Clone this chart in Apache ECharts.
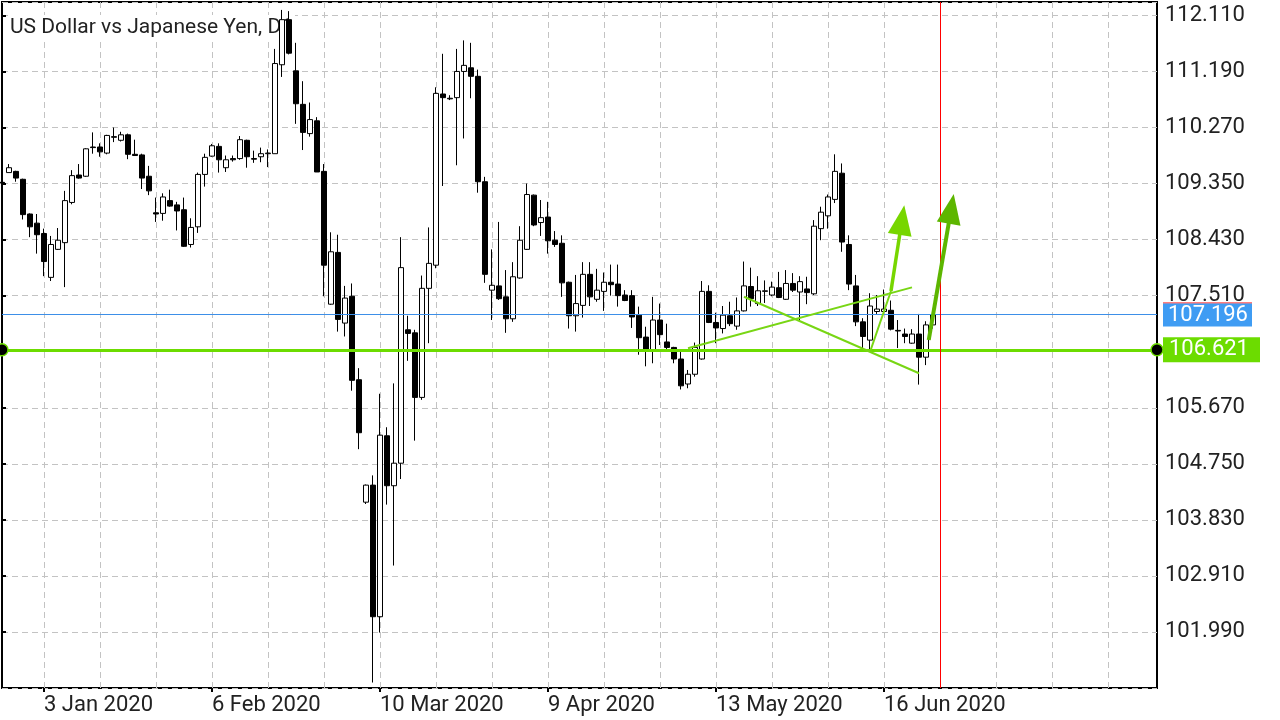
<!DOCTYPE html>
<html>
<head>
<meta charset="utf-8">
<style>
html,body{margin:0;padding:0;background:#fff;}
#chart{width:1280px;height:720px;}
</style>
<script src="https://cdn.jsdelivr.net/npm/echarts@6.0.0/dist/echarts.min.js"></script>
</head>
<body>
<div id="chart"></div>
<script>
// ---- data ----
const titleText = 'US Dollar vs Japanese Yen, D1';
const slotCount = 166; // bar slots on the time axis (incl. empty right shift)

const open = [109.37,109.53,109.55,109.42,108.85,108.70,108.53,107.81,108.27,108.38,
109.04,109.49,109.47,109.95,109.95,109.85,110.12,110.06,110.15,109.83,
109.82,109.47,108.87,108.86,109.07,109.00,108.92,108.35,108.64,109.50,
109.80,109.96,109.61,109.76,109.76,110.06,109.76,109.79,109.84,109.84,
111.30,112.04,111.20,110.65,110.17,110.38,109.55,107.37,108.22,107.06,
107.50,106.13,104.12,104.40,102.24,105.21,104.39,104.76,106.95,106.90,
105.84,107.63,108.01,110.82,110.75,110.76,111.19,111.25,111.11,109.38,
107.60,107.67,107.49,107.13,107.80,108.27,109.16,108.71,108.80,108.42,
108.37,107.73,107.18,107.35,107.86,107.45,107.58,107.73,107.70,107.52,
107.51,107.19,106.83,106.60,107.11,106.75,106.66,106.47,106.06,106.22,
106.47,107.58,107.07,106.97,107.18,107.01,107.26,107.66,107.38,107.58,
107.52,107.64,107.45,107.71,107.57,107.62,107.54,108.61,108.82,109.09,
109.52,108.35,107.67,107.08,106.78,107.25,107.25,107.27,106.94,106.88,
106.73,106.88,106.50,107.03];

const high = [109.38,109.67,109.56,109.43,108.86,108.85,108.61,108.49,108.62,109.23,
109.57,109.67,109.93,110.19,110.01,110.15,110.27,110.20,110.17,110.07,
109.84,109.64,109.12,109.19,109.25,109.05,109.12,108.78,109.53,109.84,
110.00,110.01,109.81,109.81,110.13,110.07,109.89,109.94,109.91,111.56,
112.20,112.18,111.66,111.03,110.68,110.44,109.67,108.55,108.51,107.67,
107.71,106.32,104.41,104.56,105.90,105.35,106.07,108.47,107.18,106.95,
107.84,108.63,110.93,111.48,110.80,111.56,111.70,111.66,111.22,109.46,
108.27,108.72,107.93,108.06,108.65,109.35,109.17,109.08,109.05,108.57,
108.50,107.74,107.85,108.06,108.06,107.95,107.89,108.02,108.02,107.60,
107.60,107.33,107.00,107.49,107.38,107.05,106.67,106.59,106.29,106.74,
107.75,107.68,107.23,107.34,107.41,107.48,108.07,107.97,107.83,107.76,
107.74,107.90,107.93,107.88,107.83,107.82,108.75,108.97,109.17,109.83,
109.68,108.50,107.85,107.14,107.55,107.52,107.61,107.43,107.11,106.97,
106.96,107.21,107.09,107.25];

const low = [109.34,109.53,109.38,108.76,108.47,108.20,107.83,107.75,108.26,107.65,
109.01,109.43,109.46,109.84,109.79,109.83,110.03,110.04,109.75,109.81,
109.26,109.16,108.72,108.74,108.97,108.58,108.31,108.30,108.54,109.30,
109.79,109.53,109.54,109.71,109.74,109.61,109.69,109.70,109.62,109.84,
111.10,111.47,110.33,109.90,110.12,109.54,107.50,107.36,106.92,106.84,
105.95,104.99,104.09,101.16,101.98,104.08,103.08,104.50,106.44,105.13,
105.80,106.73,107.96,109.31,110.72,109.65,110.09,110.75,109.20,107.72,
107.11,107.44,106.90,107.08,107.79,108.26,108.65,108.49,108.20,108.31,
107.49,106.97,106.92,107.15,107.34,107.41,107.26,107.51,107.33,107.42,
106.98,106.54,106.35,106.40,106.70,106.59,106.40,105.97,105.99,106.18,
106.46,107.06,106.73,106.89,107.01,106.95,107.25,107.33,107.34,107.39,
107.50,107.47,107.44,107.57,107.11,107.37,107.52,108.42,108.61,109.03,
108.23,107.60,107.01,106.59,106.59,107.21,107.22,106.94,106.65,106.73,
106.72,106.05,106.37,106.97];

const close = [109.36,109.61,109.44,108.84,108.64,108.51,108.07,108.35,108.42,109.07,
109.48,109.44,109.92,109.94,109.87,110.14,110.11,110.15,109.83,109.81,
109.44,109.23,108.85,109.13,108.98,108.90,108.32,108.63,109.50,109.78,
109.97,109.74,109.74,109.74,110.07,109.79,109.75,109.84,109.85,111.32,
112.04,111.49,110.66,110.19,110.40,109.54,108.01,108.23,107.12,107.47,
106.12,105.26,104.40,102.24,105.22,104.39,104.76,107.97,106.89,105.84,
107.63,108.04,110.83,110.76,110.74,111.19,111.29,111.11,109.38,107.86,
107.68,107.46,107.13,107.82,108.42,109.17,108.67,108.79,108.41,108.35,
107.72,107.18,107.38,107.86,107.49,107.60,107.73,107.69,107.51,107.43,
107.16,106.82,106.60,107.11,106.87,106.66,106.47,106.03,106.22,106.66,
107.58,107.07,106.98,107.19,107.05,107.26,107.67,107.46,107.59,107.59,
107.65,107.48,107.71,107.60,107.74,107.56,108.65,108.88,109.13,109.55,
108.39,107.70,107.08,106.84,107.34,107.29,107.29,106.96,106.93,106.84,
106.88,106.50,107.03,107.196];

const dateLabels = ['3 Jan 2020','6 Feb 2020','10 Mar 2020','9 Apr 2020','13 May 2020','16 Jun 2020'];
const dateLabelIndex = [6, 30, 54, 78, 102, 126];
const gridLineStart = 6, gridLineStep = 8;

const yMin = 101.07, yMax = 112.33, yStep = 0.92;

const bidPrice = 107.196;
const askPrice = 107.212;
const levelPrice = 106.621;
const separatorIndex = 134;

// drawn objects, in [bar index, price]
const trendRising = [[98, 106.646], [130, 107.646]];
const trendFalling = [[106, 107.492], [131, 106.236]];
const arrow1Base = [[124.07, 106.610], [127.0, 107.586]];
const arrow1 = [[127.0, 107.586], [128.57, 108.75]];
const arrow2 = [[132.39, 106.782], [135.6, 108.935]];

// ---- chart ----
const FONT = 'Roboto';
const categories = Array.from({length: slotCount}, (_, i) => i);
const candles = open.map((o, i) => [o, close[i], low[i], high[i]]);
const isDateLabel = (idx) => dateLabelIndex.indexOf(idx) >= 0;
const isGridLine = (idx) => idx >= gridLineStart && (idx - gridLineStart) % gridLineStep === 0;

const chart = echarts.init(document.getElementById('chart'), null, {renderer: 'canvas'});

const option = {
  animation: false,
  backgroundColor: '#ffffff',
  title: {
    text: titleText,
    left: 8, top: 15,
    padding: [2, 2, 2, 2],
    backgroundColor: '#ffffff',
    z: 1,
    textStyle: {fontFamily: FONT, fontSize: 21, fontWeight: 'normal', color: '#222222'}
  },
  grid: {
    left: 2, right: 123, top: 2, bottom: 32,
    show: true, borderColor: '#000000', borderWidth: 2,
    backgroundColor: 'transparent',
    containLabel: false,
    outerBoundsMode: 'none'
  },
  xAxis: [{
    type: 'category',
    data: categories,
    boundaryGap: false,
    axisLine: {show: false},
    axisTick: {show: true, interval: isDateLabel, length: 4, lineStyle: {color: '#000', width: 2}},
    axisLabel: {
      interval: isDateLabel,
      formatter: (v, idx) => dateLabels[dateLabelIndex.indexOf(idx)] || '',
      align: 'left', margin: 6,
      fontFamily: FONT, fontSize: 22, color: '#222222'
    },
    splitLine: {show: true, interval: isGridLine, lineStyle: {color: '#c3c3c3', width: 1, type: [6, 4]}}
  }, {
    type: 'value', min: 0, max: slotCount - 1, show: false
  }],
  yAxis: {
    type: 'value',
    position: 'right',
    min: yMin, max: yMax, interval: yStep,
    axisLine: {show: false},
    axisTick: {show: true, length: 4, lineStyle: {color: '#000', width: 2}},
    axisLabel: {
      showMinLabel: false, showMaxLabel: false,
      formatter: (v) => v.toFixed(3),
      margin: 8,
      fontFamily: FONT, fontSize: 22, color: '#222222'
    },
    splitLine: {show: true, lineStyle: {color: '#c3c3c3', width: 1, type: [6, 4]}}
  },
  series: [{
    type: 'candlestick',
    name: 'USDJPY',
    data: candles,
    barWidth: 5,
    z: 2,
    itemStyle: {
      color: '#ffffff', color0: '#000000',
      borderColor: '#000000', borderColor0: '#000000', borderColorDoji: '#000000',
      borderWidth: 1
    }
  }, {
    type: 'line',
    xAxisIndex: 1,
    data: [],
    clip: false,
    silent: true,
    z: 3,
    markLine: {
      silent: true,
      animation: false,
      symbol: ['none', 'none'],
      label: {show: false},
      data: [
        {yAxis: askPrice, lineStyle: {color: '#ff0000', width: 1, type: 'solid'}},
        {yAxis: bidPrice, lineStyle: {color: '#3d8fe8', width: 1, type: 'solid'},
          label: {
            show: true, position: 'end', distance: 6,
            formatter: '{r| }\n{b|' + bidPrice.toFixed(3) + '}',
            rich: {
              r: {width: 89, height: 1, lineHeight: 1, fontSize: 1, backgroundColor: '#ff0000'},
              b: {width: 84, height: 23, lineHeight: 23, padding: [0, 0, 0, 5], backgroundColor: '#3f9cf3',
                  color: '#ffffff', fontFamily: FONT, fontSize: 22}
            }
          }},
        {yAxis: levelPrice, lineStyle: {color: '#6cdc00', width: 3, type: 'solid'},
          label: {
            show: true, position: 'end', distance: 6,
            formatter: '{g|' + levelPrice.toFixed(3) + '}',
            rich: {
              g: {width: 91, height: 25, lineHeight: 25, padding: [0, 0, 0, 6], backgroundColor: '#6cdc00',
                  color: '#ffffff', fontFamily: FONT, fontSize: 22}
            }
          }},
        {xAxis: separatorIndex, lineStyle: {color: '#ff0000', width: 1, type: 'solid'}},
        [{coord: trendRising[0], lineStyle: {color: '#78d614', width: 2, type: 'solid'}}, {coord: trendRising[1]}],
        [{coord: trendFalling[0], lineStyle: {color: '#78d614', width: 2, type: 'solid'}}, {coord: trendFalling[1]}],
        [{coord: arrow1Base[0], lineStyle: {color: '#78d614', width: 2, type: 'solid'}}, {coord: arrow1Base[1]}],
        [{coord: arrow1[0], lineStyle: {color: '#77d600', width: 3.5, type: 'solid'}},
         {coord: arrow1[1], symbol: 'triangle', symbolSize: [24, 30]}],
        [{coord: arrow2[0], lineStyle: {color: '#5db600', width: 4, type: 'solid'}},
         {coord: arrow2[1], symbol: 'triangle', symbolSize: [24, 30]}]
      ]
    },
    markPoint: {
      silent: true,
      animation: false,
      symbol: 'circle',
      symbolSize: 12,
      label: {show: false},
      itemStyle: {color: '#000000', borderColor: '#6cdc00', borderWidth: 1.5},
      data: [{coord: [0, levelPrice]}, {coord: [slotCount - 1, levelPrice]}]
    }
  }]
};
chart.setOption(option);
</script>
</body>
</html>
